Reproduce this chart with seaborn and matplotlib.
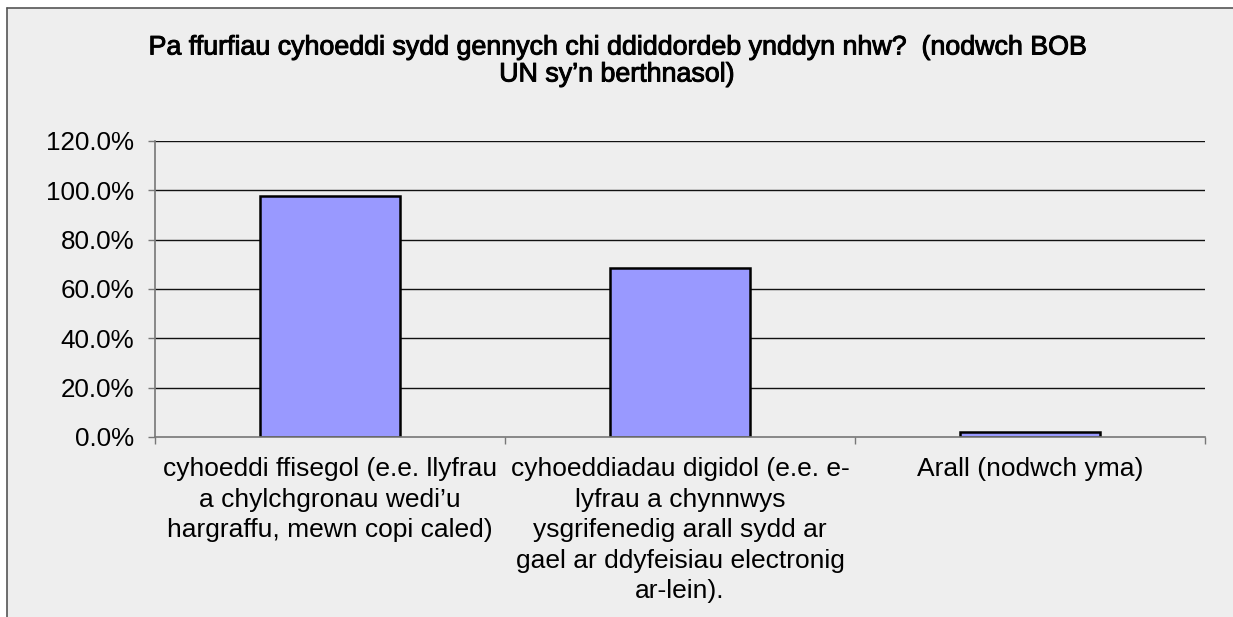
import matplotlib
matplotlib.use("Agg")
import matplotlib.pyplot as plt
import matplotlib.patheffects as pe
import seaborn as sns
import pandas as pd
from matplotlib.ticker import FuncFormatter
from matplotlib.lines import Line2D

categories = [
    "cyhoeddi ffisegol (e.e. llyfrau\na chylchgronau wedi\u2019u\nhargraffu, mewn copi caled)",
    "cyhoeddiadau digidol (e.e. e-\nlyfrau a chynnwys\nysgrifenedig arall sydd ar\ngael ar ddyfeisiau electronig\nar-lein).",
    "Arall (nodwch yma)",
]
values = [0.977, 0.685, 0.02]
yticks = [0.0, 0.2, 0.4, 0.6, 0.8, 1.0, 1.2]
title = "Pa ffurfiau cyhoeddi sydd gennych chi ddiddordeb ynddyn nhw?  (nodwch BOB\nUN sy\u2019n berthnasol)"

sns.set_theme(style="white")
plt.rcParams['font.family'] = ['Liberation Sans', 'DejaVu Sans']

W, H = 1233, 617
fig = plt.figure(figsize=(W / 100, H / 100), dpi=100)
fig.patch.set_facecolor("white")

# chart frame background
fig.patches.append(plt.Rectangle((7 / W, 0), 1, 1 - 8 / H, transform=fig.transFigure,
                                 facecolor="#eeeeee", edgecolor="none", zorder=-10))
fig.lines.append(Line2D([7 / W, 1], [1 - 8 / H, 1 - 8 / H], transform=fig.transFigure,
                        color="#555555", lw=1.2))
fig.lines.append(Line2D([7 / W, 7 / W], [0, 1 - 8 / H], transform=fig.transFigure,
                        color="#555555", lw=1.2))

ax = fig.add_axes([155 / W, (H - 437) / H, (1205 - 155) / W, (437 - 141) / H])
ax.set_facecolor("#eeeeee")

df = pd.DataFrame({"cat": categories, "val": values})
sns.barplot(data=df, x="cat", y="val", ax=ax, width=0.4, color="#9999ff",
            saturation=1, edgecolor="black", linewidth=1.8)

ax.set_xlim(-0.5, 2.5)
ax.set_ylim(0, 1.2)
ax.set_yticks(yticks)
ax.yaxis.set_major_formatter(FuncFormatter(lambda v, p: f"{v*100:.1f}%"))
for y in yticks[1:]:
    ax.axhline(y, color="#111111", lw=1.0, zorder=0)

ax.set_xlabel("")
ax.set_ylabel("")
for s in ["top", "right"]:
    ax.spines[s].set_visible(False)
for s in ["left", "bottom"]:
    ax.spines[s].set_color("#777777")
    ax.spines[s].set_linewidth(1.2)

ax.tick_params(axis="y", which="major", left=True, length=5, width=1, color="#777777",
               pad=10, labelsize=18.7, labelcolor="black")
ax.tick_params(axis="x", which="major", bottom=False, length=0, pad=14.5,
               labelsize=19, labelcolor="black")
ax.set_xticks([-0.5, 0.5, 1.5, 2.5], minor=True)
ax.tick_params(axis="x", which="minor", bottom=True, length=5, width=1, color="#777777")
for lab in ax.get_xticklabels():
    lab.set_linespacing(1.34)
    lab.set_verticalalignment("top")
    lab.set_horizontalalignment("center")
    lab.set_multialignment("center")

fig.text(0.5, 1 - 61 / H, title, ha="center", va="center", fontsize=19.3,
         color="black", linespacing=1.05,
         path_effects=[pe.withStroke(linewidth=0.7, foreground="black")])

fig.savefig("out.png", dpi=100)
